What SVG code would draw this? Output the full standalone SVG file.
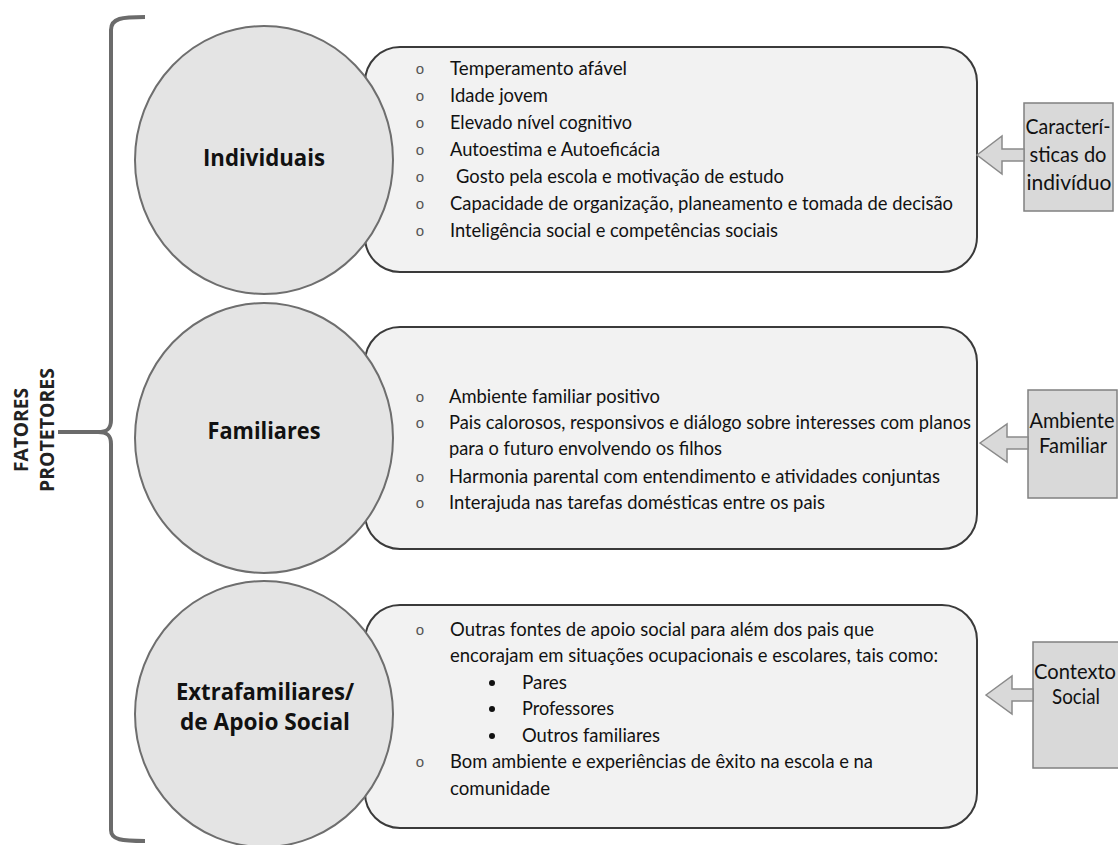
<svg xmlns="http://www.w3.org/2000/svg" width="1118" height="845" viewBox="0 0 1118 845">
  <style>
    .panel { fill: #f2f2f2; stroke: #3a3a3a; stroke-width: 2; }
    .disc { fill: #e4e4e4; stroke: #6e6e6e; stroke-width: 2; }
    .label { font-family: "Open Sans", "Liberation Sans", sans-serif; font-weight: 700; font-size: 23px; fill: #111; text-anchor: middle; }
    .item { font-family: Lato, "Liberation Sans", sans-serif; font-size: 19px; fill: #111; }
    .mark { font-family: "Liberation Sans", sans-serif; font-size: 15px; fill: #555; text-anchor: middle; }
    .dot { fill: #111; }
    .tag { fill: #d9d9d9; stroke: #808080; stroke-width: 1.5; }
    .tagtext { font-family: Lato, "Liberation Sans", sans-serif; font-size: 21px; fill: #111; text-anchor: middle; }
    .arrow { fill: #d9d9d9; stroke: #8a8a8a; stroke-width: 1.5; stroke-linejoin: miter; }
    .brace { fill: none; stroke: #6b6b6b; stroke-width: 4; stroke-linecap: butt; }
    .title { font-family: "Open Sans", "Liberation Sans", sans-serif; font-weight: 700; font-size: 19px; fill: #222; text-anchor: middle; }
  </style>

  <!-- side title and brace -->
  <g id="title">
    <text class="title" transform="translate(28,430) rotate(-90)" textLength="84" lengthAdjust="spacingAndGlyphs">FATORES</text>
    <text class="title" transform="translate(54,430) rotate(-90)" textLength="124" lengthAdjust="spacingAndGlyphs">PROTETORES</text>
  </g>
  <g id="brace">
    <path class="brace" d="M145,17 C122,17 111,18 111,30 V420 C111,429 107,432 98,432 H58 M98,432 C107,432 111,435 111,444 V830 C111,840 122,841 145,841"/>
  </g>

  <!-- Individuais -->
  <g id="individuais">
    <rect class="panel" x="365" y="47" width="612" height="225" rx="35" ry="35"/>
    <ellipse class="disc" cx="264" cy="160" rx="129" ry="134"/>
    <text class="label" x="264" y="166" textLength="122" lengthAdjust="spacingAndGlyphs">Individuais</text>
    <g class="mark">
      <text x="420" y="74">o</text>
      <text x="420" y="101">o</text>
      <text x="420" y="128">o</text>
      <text x="420" y="155">o</text>
      <text x="420" y="182">o</text>
      <text x="420" y="209">o</text>
      <text x="420" y="236">o</text>
    </g>
    <text class="item" x="450" y="75" textLength="177" lengthAdjust="spacingAndGlyphs">Temperamento afável</text>
    <text class="item" x="450" y="102" textLength="98" lengthAdjust="spacingAndGlyphs">Idade jovem</text>
    <text class="item" x="450" y="129" textLength="182" lengthAdjust="spacingAndGlyphs">Elevado nível cognitivo</text>
    <text class="item" x="450" y="156" textLength="210" lengthAdjust="spacingAndGlyphs">Autoestima e Autoeficácia</text>
    <text class="item" x="456" y="183" textLength="328" lengthAdjust="spacingAndGlyphs">Gosto pela escola e motivação de estudo</text>
    <text class="item" x="450" y="210" textLength="503" lengthAdjust="spacingAndGlyphs">Capacidade de organização, planeamento e tomada de decisão</text>
    <text class="item" x="450" y="237" textLength="328" lengthAdjust="spacingAndGlyphs">Inteligência social e competências sociais</text>
  </g>

  <!-- Familiares -->
  <g id="familiares">
    <rect class="panel" x="365" y="327" width="612" height="222" rx="35" ry="35"/>
    <ellipse class="disc" cx="264" cy="438" rx="129" ry="135"/>
    <text class="label" x="264" y="439" textLength="113" lengthAdjust="spacingAndGlyphs">Familiares</text>
    <g class="mark">
      <text x="420" y="402">o</text>
      <text x="420" y="428">o</text>
      <text x="420" y="482">o</text>
      <text x="420" y="508">o</text>
    </g>
    <text class="item" x="449" y="403" textLength="211" lengthAdjust="spacingAndGlyphs">Ambiente familiar positivo</text>
    <text class="item" x="449" y="429" textLength="522" lengthAdjust="spacingAndGlyphs">Pais calorosos, responsivos e diálogo sobre interesses com planos</text>
    <text class="item" x="449" y="455" textLength="273" lengthAdjust="spacingAndGlyphs">para o futuro envolvendo os filhos</text>
    <text class="item" x="449" y="483" textLength="491" lengthAdjust="spacingAndGlyphs">Harmonia parental com entendimento e atividades conjuntas</text>
    <text class="item" x="449" y="509" textLength="376" lengthAdjust="spacingAndGlyphs">Interajuda nas tarefas domésticas entre os pais</text>
  </g>

  <!-- Extrafamiliares / de Apoio Social -->
  <g id="extrafamiliares">
    <rect class="panel" x="365" y="605" width="612" height="223" rx="35" ry="35"/>
    <ellipse class="disc" cx="264" cy="714" rx="129" ry="133"/>
    <text class="label" x="265" y="700" textLength="178" lengthAdjust="spacingAndGlyphs">Extrafamiliares/</text>
    <text class="label" x="265" y="730" textLength="170" lengthAdjust="spacingAndGlyphs">de Apoio Social</text>
    <g class="mark">
      <text x="420" y="635">o</text>
      <text x="420" y="767">o</text>
    </g>
    <circle class="dot" cx="492" cy="683" r="3"/>
    <circle class="dot" cx="492" cy="709" r="3"/>
    <circle class="dot" cx="492" cy="736" r="3"/>
    <text class="item" x="450" y="636" textLength="424" lengthAdjust="spacingAndGlyphs">Outras fontes de apoio social para além dos pais que</text>
    <text class="item" x="450" y="662" textLength="488" lengthAdjust="spacingAndGlyphs">encorajam em situações ocupacionais e escolares, tais como:</text>
    <text class="item" x="522" y="689" textLength="45" lengthAdjust="spacingAndGlyphs">Pares</text>
    <text class="item" x="522" y="715" textLength="92" lengthAdjust="spacingAndGlyphs">Professores</text>
    <text class="item" x="522" y="742" textLength="138" lengthAdjust="spacingAndGlyphs">Outros familiares</text>
    <text class="item" x="450" y="768" textLength="423" lengthAdjust="spacingAndGlyphs">Bom ambiente e experiências de êxito na escola e na</text>
    <text class="item" x="450" y="795" textLength="100" lengthAdjust="spacingAndGlyphs">comunidade</text>
  </g>

  <!-- context tags -->
  <g id="tag-individuo">
    <rect class="tag" x="1024" y="103" width="89" height="108"/>
    <text class="tagtext" x="1068" y="134" textLength="85" lengthAdjust="spacingAndGlyphs">Caracterí-</text>
    <text class="tagtext" x="1068" y="162" textLength="77" lengthAdjust="spacingAndGlyphs">sticas do</text>
    <text class="tagtext" x="1069" y="190" textLength="85" lengthAdjust="spacingAndGlyphs">indivíduo</text>
  </g>
  <g id="tag-familiar">
    <rect class="tag" x="1028" y="390" width="89" height="108"/>
    <text class="tagtext" x="1072" y="428" textLength="85" lengthAdjust="spacingAndGlyphs">Ambiente</text>
    <text class="tagtext" x="1073" y="453" textLength="68" lengthAdjust="spacingAndGlyphs">Familiar</text>
  </g>
  <g id="tag-social">
    <rect class="tag" x="1033" y="642" width="90" height="126"/>
    <text class="tagtext" x="1075" y="679" textLength="82" lengthAdjust="spacingAndGlyphs">Contexto</text>
    <text class="tagtext" x="1076" y="704" textLength="48" lengthAdjust="spacingAndGlyphs">Social</text>
  </g>

  <!-- connectors -->
  <g id="connectors">
    <polygon class="arrow" points="977,155 1002,136 1002,149 1024,149 1024,161 1002,161 1002,174"/>
    <polygon class="arrow" points="980,443 1007,424 1007,437 1028,437 1028,449 1007,449 1007,462"/>
    <polygon class="arrow" points="986,695 1012,676 1012,689 1033,689 1033,701 1012,701 1012,714"/>
  </g>
</svg>
